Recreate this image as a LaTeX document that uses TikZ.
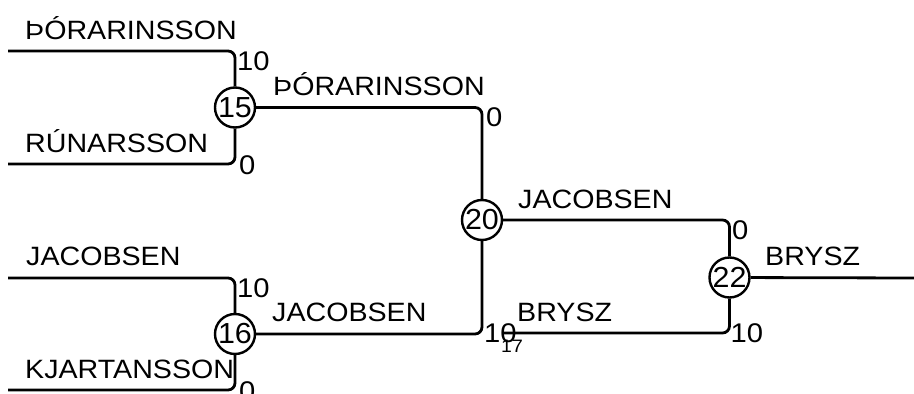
\documentclass[tikz,border=0pt]{standalone}
\usepackage{fontspec}
\newfontfamily\bfont[FakeStretch=1.08]{Liberation Sans}
\newfontfamily\cfont[FakeStretch=1.05]{Liberation Sans}
\begin{document}
\begin{tikzpicture}[x=1pt,y=-1pt,
  wire/.style={line width=2.8pt,rounded corners=7pt},
  matchnode/.style={circle,draw,line width=2.4pt,minimum size=40pt,inner sep=0pt,font=\cfont\fontsize{29}{29}\selectfont},
  namelbl/.style={anchor=base west,inner sep=0pt,font=\bfont\fontsize{26.5}{26.5}\selectfont},
  scorelbl/.style={anchor=base west,inner sep=0pt,font=\bfont\fontsize{27}{27}\selectfont},
  smalllbl/.style={anchor=base west,inner sep=0pt,font=\bfont\fontsize{18}{18}\selectfont}]
\useasboundingbox (0,0) rectangle (914,394);
% matches
\node[matchnode] (m15) at (235,107.5) {15};
\node[matchnode] (m16) at (235,334) {16};
\node[matchnode] (m20) at (482,220) {20};
\node[matchnode] (m22) at (729.5,277.5) {22};
\coordinate (m17) at (503,333);
% entries
\coordinate (e1) at (8,51);
\coordinate (e2) at (8,164);
\coordinate (e3) at (8,278);
\coordinate (e4) at (8,390);
\coordinate (w) at (914,278);
% wires
\draw[wire] (e1) -| (m15);
\draw[wire] (e2) -| (m15);
\draw[wire] (e3) -| (m16);
\draw[wire] (e4) -| (m16);
\draw[wire] (m15) -| (m20);
\draw[wire] (m16) -| (m20);
\draw[wire] (m20) -| (m22);
\draw[wire] (m17) -| (m22);
\draw[wire] (m22) -- (w);
% names
\node[namelbl] (n1) at (25,39) {ÞÓRARINSSON};
\node[namelbl] (n2) at (25,152) {RÚNARSSON};
\node[namelbl] (n3) at (26,265) {JACOBSEN};
\node[namelbl] (n4) at (25,378) {KJARTANSSON};
\node[namelbl] (n5) at (273,95) {ÞÓRARINSSON};
\node[namelbl] (n6) at (272,321) {JACOBSEN};
\node[namelbl] (n7) at (518,208) {JACOBSEN};
\node[namelbl] (n8) at (517,321) {BRYSZ};
\node[namelbl] (n9) at (765,265) {BRYSZ};
% scores
\node[scorelbl] (s1) at (237,70) {10};
\node[scorelbl] (s2) at (239,174) {0};
\node[scorelbl] (s3) at (237,297) {10};
\node[scorelbl] (s4) at (239,400) {0};
\node[scorelbl] (s5) at (486,126) {0};
\node[scorelbl] (s6) at (484,342) {10};
\node[scorelbl] (s7) at (732,239) {0};
\node[scorelbl] (s8) at (730.5,342) {10};
\node[smalllbl] (t17) at (501,352) {17};
\end{tikzpicture}
\end{document}
